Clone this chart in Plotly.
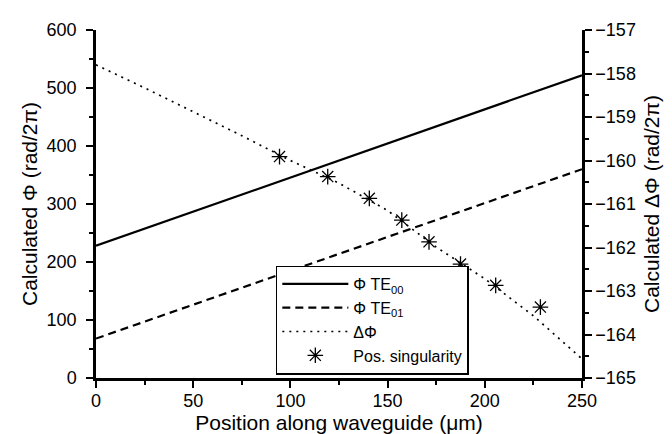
import plotly.graph_objects as go

# Data
line_x = [0, 250]
te00 = [228, 522]
te01 = [68, 360]

dphi_x = [0, 25, 50, 75, 100, 125, 150, 175, 200, 225, 250]
dphi_y = [-157.80, -158.33, -158.88, -159.43, -160.00, -160.52, -161.15,
          -161.99, -162.72, -163.57, -164.56]

sing_x = [94.4, 119.2, 140.6, 157.3, 171.3, 187.5, 205.6, 228.6]
sing_y = [-159.91, -160.37, -160.87, -161.37, -161.87, -162.38, -162.87, -163.37]

x_ticks = [0, 50, 100, 150, 200, 250]
y_ticks = [0, 100, 200, 300, 400, 500, 600]
y2_ticks = [-165, -164, -163, -162, -161, -160, -159, -158, -157]

FONT = "Liberation Sans, Arial, Helvetica, sans-serif"

fig = go.Figure()
fig.add_trace(go.Scatter(x=line_x, y=te00, mode="lines", name="Φ TE<sub>00</sub>",
                         line=dict(color="black", width=2.2)))
fig.add_trace(go.Scatter(x=line_x, y=te01, mode="lines", name="Φ TE<sub>01</sub>",
                         line=dict(color="black", width=2.2, dash="8px,5px")))
fig.add_trace(go.Scatter(x=dphi_x, y=dphi_y, mode="lines", name="ΔΦ", yaxis="y2",
                         line=dict(color="black", width=1.7, dash="2px,5px")))
fig.add_trace(go.Scatter(x=sing_x, y=sing_y, mode="markers", name="Pos. singularity",
                         yaxis="y2",
                         marker=dict(symbol="asterisk-open", size=13, color="black",
                                     line=dict(color="black", width=1.3))))

axis_common = dict(showline=True, linecolor="black", linewidth=2.5, showgrid=False,
                   zeroline=False, ticks="outside", tickwidth=2, tickcolor="black",
                   ticklen=7, tickfont=dict(size=18, color="black", family=FONT))

fig.update_layout(
    width=672, height=434,
    margin=dict(l=88, r=98, t=14, b=64),
    paper_bgcolor="white", plot_bgcolor="white",
    font=dict(family=FONT, color="black"),
    xaxis=dict(range=[0, 250], tickvals=x_ticks, ticklabelstandoff=-2,
               minor=dict(dtick=25, tick0=0, ticks="outside", ticklen=4, tickwidth=2,
                          tickcolor="black"),
               title=dict(text="Position along waveguide (μm)",
                          font=dict(size=21, color="black"), standoff=0),
               **axis_common),
    yaxis=dict(range=[0, 600], tickvals=y_ticks, ticklabelstandoff=6,
               minor=dict(dtick=50, tick0=0, ticks="outside", ticklen=4, tickwidth=2,
                          tickcolor="black"),
               title=dict(text="Calculated Φ (rad/2π)",
                          font=dict(size=21, color="black"), standoff=4),
               **axis_common),
    yaxis2=dict(range=[-165, -157], tickvals=y2_ticks, overlaying="y", side="right",
                anchor="x",
                minor=dict(dtick=0.5, tick0=-165, ticks="outside", ticklen=4, tickwidth=2,
                           tickcolor="black"),
                title=dict(text="Calculated ΔΦ (rad/2π)",
                           font=dict(size=21, color="black"), standoff=10),
                **axis_common),
    legend=dict(x=0.37, y=0.01, xanchor="left", yanchor="bottom",
                bgcolor="white", bordercolor="black", borderwidth=1.5,
                font=dict(size=16, color="black", family=FONT),
                tracegroupgap=0, itemwidth=66),
    showlegend=True,
)

fig.write_html("out.html")
